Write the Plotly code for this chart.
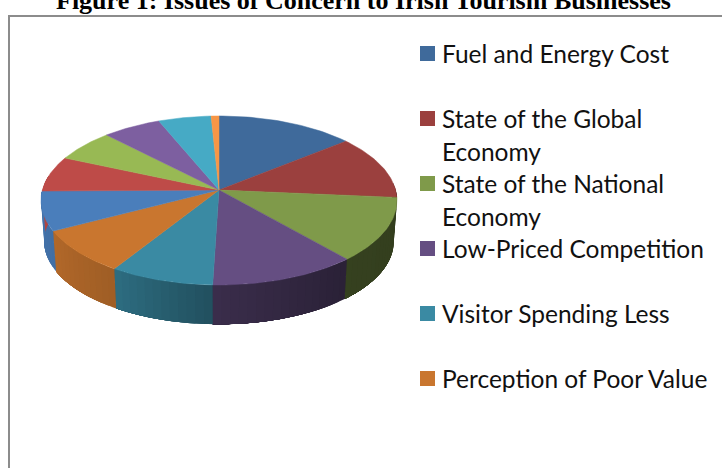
import numpy as np
import plotly.graph_objects as go

# Data (percent of the whole, clockwise from 12 o'clock)
slice_values = [14.1, 12.3, 12.2, 11.9, 8.4, 8.4, 7.5, 6.8, 6.2, 6.0, 5.4, 0.8]
legend_labels = ["Fuel and Energy Cost", "State of the Global|Economy",
                 "State of the National|Economy", "Low-Priced Competition",
                 "Visitor Spending Less", "Perception of Poor Value"]
title_text = "Figure 1: Issues of Concern to Irish Tourism Businesses"

# Styles
face_colors = ["#3F6A9B", "#9B403E", "#7F9A4A", "#654E82", "#3A8AA3", "#C9762F",
               "#4A7EBB", "#BE4B48", "#98B954", "#7D5FA0", "#46AAC5", "#F79646"]
shade_angle = [85, 95, 140, 182, 212, 240, 270, 280]
shade_mult = [.40, .40, .42, .58, .79, .88, .92, .92]

# Perspective model of the tilted disc, in page pixels
APEX_X, APEX_Y = 219.0, 190.0
A, B, K = 83.2, 176.6, 0.124
WALL_SCALE, WALL_DROP = 0.982, 41.0


def rim(theta_deg):
    t = np.radians(theta_deg)
    d = 1 + K * np.cos(t)
    return APEX_X + B * np.sin(t) / d, APEX_Y - A * np.cos(t) / d


def rim_low(theta_deg):
    x, y = rim(theta_deg)
    return APEX_X + (x - APEX_X) * WALL_SCALE, APEX_Y + (y - APEX_Y) * WALL_SCALE + WALL_DROP


def shade(hex_color, m):
    r, g, b = (int(hex_color[i:i + 2], 16) for i in (1, 3, 5))
    return f"rgb({r * m:.0f},{g * m:.0f},{b * m:.0f})"


edges = np.cumsum([0] + slice_values) / sum(slice_values) * 360
fig = go.Figure()

# Side wall: overlapping shaded strips, each one reaching to the end of its slice
for i, col in enumerate(face_colors):
    lo, hi = max(edges[i], 85), min(edges[i + 1], 280)
    if hi <= lo:
        continue
    cuts = np.linspace(lo, hi, max(2, int((hi - lo) / 2.5) + 1))
    for a, b in zip(cuts[:-1], cuts[1:]):
        seg = np.linspace(a, hi, 24)
        xu, yu = rim(seg)
        xl, yl = rim_low(seg[::-1])
        c = shade(col, float(np.interp((a + b) / 2, shade_angle, shade_mult)))
        fig.add_trace(go.Scatter(x=np.r_[xu, xl], y=np.r_[yu, yl], mode="none", fill="toself",
                                 fillcolor=c, hoverinfo="skip", showlegend=False))

# Top face
for i, col in enumerate(face_colors):
    seg = np.linspace(edges[i], edges[i + 1], 40)
    xr, yr = rim(seg)
    fig.add_trace(go.Scatter(x=np.r_[APEX_X, xr, APEX_X], y=np.r_[APEX_Y, yr, APEX_Y],
                             mode="lines", fill="toself", fillcolor=col,
                             line=dict(color=col, width=0.5), hoverinfo="skip", showlegend=False))

# Legend
ROW0, ROW_STEP, LINE_STEP = 53.5, 65.0, 33.0
rows = [ROW0 + i * ROW_STEP for i in range(len(legend_labels))]
fig.add_trace(go.Scatter(x=[427.5] * len(rows), y=rows, mode="markers", hoverinfo="skip",
                         marker=dict(symbol="square", size=15, color=face_colors[:len(rows)],
                                     line=dict(width=0)), showlegend=False))
annotations = []
for row, label in zip(rows, legend_labels):
    for j, part in enumerate(label.split("|")):
        annotations.append(dict(x=439.5, y=row + j * LINE_STEP, xref="x", yref="y", text=part,
                                showarrow=False, xanchor="left", yanchor="middle",
                                font=dict(family="Lato", size=24.5, color="#111111")))
annotations.append(dict(x=363.5, y=0.5, xref="x", yref="y", text=f"<b>{title_text}</b>", showarrow=False,
                        xanchor="center", yanchor="middle",
                        font=dict(family="Liberation Serif", size=26, color="#000000")))

fig.update_layout(
    width=722, height=468, margin=dict(l=0, r=0, t=0, b=0), paper_bgcolor="white",
    plot_bgcolor="white", showlegend=False, annotations=annotations,
    xaxis=dict(range=[0, 722], visible=False, fixedrange=True),
    yaxis=dict(range=[468, 0], visible=False, fixedrange=True),
    shapes=[dict(type="rect", xref="x", yref="y", x0=9, y0=16, x1=760, y1=500,
                 line=dict(color="#8C8C8C", width=2), layer="below")],
)
fig.write_html("out.html", config=dict(displayModeBar=False),
               post_script="document.body.style.margin='0';document.body.style.overflow='hidden';")
